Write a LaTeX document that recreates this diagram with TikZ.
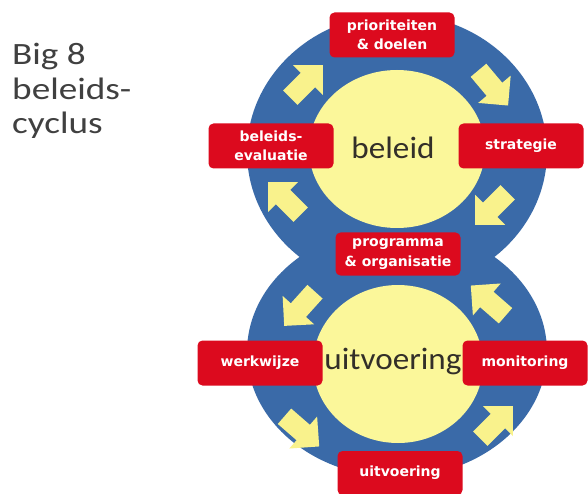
\documentclass[tikz,border=0pt]{standalone}
\usepackage{fontspec}
\newfontfamily\slidefont{Carlito}
\newfontfamily\boxfont{DejaVu Sans}
\usetikzlibrary{shapes.arrows}
\definecolor{ringblue}{HTML}{3A6AA8}
\definecolor{corefill}{HTML}{FBF79A}
\definecolor{flowfill}{HTML}{F9F28C}
\definecolor{boxred}{HTML}{DC0A1E}
\definecolor{titlegray}{HTML}{404040}
\tikzset{
  stage/.style={fill=boxred, rounded corners=5pt, text=white, inner sep=0pt,
    minimum width=125pt, minimum height=45pt, align=center,
    font=\boxfont\bfseries\fontsize{14}{19.5}\selectfont},
  flow/.style={single arrow, fill=flowfill, inner xsep=0pt, inner ysep=10pt,
    minimum height=46pt, minimum width=42pt, single arrow head extend=11pt},
  core/.style={font=\slidefont\fontsize{31}{34}\selectfont, text=black!85!olive, xscale=1.07}
}
\begin{document}
\begin{tikzpicture}[x=1pt,y=1pt]
    \useasboundingbox[fill=white] (0,0) rectangle (588,493);

    % Title
    \node[anchor=north west, inner sep=0pt, align=left, text=titlegray,
      font=\slidefont\fontsize{31}{34.5}\selectfont, xscale=1.2] (title) at (12,450) {Big 8\\beleids-\\cyclus};

    % Blue rings
    \fill[ringblue] (397,341) ellipse (150 and 138) (397,141) ellipse (150 and 125);

    % Yellow cores
    \fill[corefill] (397,344) ellipse (88 and 79);
    \fill[corefill] (398,129) ellipse (85 and 79);
    \node[core] (beleidcore) at (393,345) {beleid};
    \node[core] (uitvcore) at (393,132) {uitvoering};

    % Arrows, top cycle (clockwise)
    \node[flow, rotate=45] (f1) at (303,408) {};
    \node[flow, rotate=-50] (f2) at (490,409) {};
    \node[flow, rotate=-135] (f3) at (495,288) {};
    \node[flow, rotate=135] (f4) at (288,291) {};

    % Arrows, bottom cycle (counter-clockwise)
    \node[flow, rotate=-132] (f5) at (303,188) {};
    \node[flow, rotate=-41] (f6) at (298,65) {};
    \node[flow, rotate=45] (f7) at (493,67) {};
    \node[flow, rotate=139] (f8) at (492,189) {};

    % Stages
    \node[stage] (prio) at (392,458) {prioriteiten\\\& doelen};
    \node[stage] (eval) at (271,347) {beleids-\\evaluatie};
    \node[stage] (strat) at (521,347) {strategie};
    \node[stage, minimum height=43pt] (prog) at (398,239) {programma\\\& organisatie};
    \node[stage] (werk) at (260,130) {werkwijze};
    \node[stage] (mon) at (525,130) {monitoring};
    \node[stage, minimum height=44pt] (uitv) at (400,20) {uitvoering};
\end{tikzpicture}
\end{document}
